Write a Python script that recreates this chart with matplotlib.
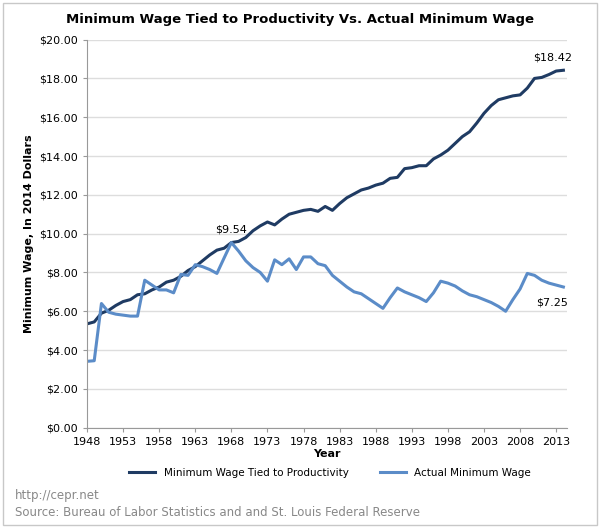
import numpy as np
import matplotlib.pyplot as plt
from matplotlib.patches import Rectangle

years = np.arange(1948, 2015)
productivity = [5.35, 5.45, 5.9, 6.05, 6.3, 6.5, 6.6, 6.85, 6.9, 7.1, 7.25, 7.5, 7.6, 7.8, 8.1, 8.3,
                8.6, 8.9, 9.15, 9.25, 9.54, 9.6, 9.8, 10.15, 10.4, 10.6, 10.45, 10.75, 11.0, 11.1,
                11.2, 11.25, 11.15, 11.4, 11.2, 11.55, 11.85, 12.05, 12.25, 12.35, 12.5, 12.6, 12.85,
                12.9, 13.35, 13.4, 13.5, 13.5, 13.85, 14.05, 14.3, 14.65, 15.0, 15.25, 15.7, 16.2,
                16.6, 16.9, 17.0, 17.1, 17.15, 17.5, 18.0, 18.05, 18.2, 18.38, 18.42]
actual = [3.42, 3.45, 6.4, 5.95, 5.85, 5.8, 5.75, 5.75, 7.6, 7.35, 7.1, 7.1, 6.95, 7.9, 7.85, 8.4,
          8.3, 8.15, 7.95, 8.75, 9.54, 9.1, 8.6, 8.25, 8.0, 7.55, 8.65, 8.4, 8.7, 8.15, 8.8, 8.8,
          8.45, 8.35, 7.85, 7.55, 7.25, 7.0, 6.9, 6.65, 6.4, 6.15, 6.7, 7.2, 7.0, 6.85, 6.7, 6.5,
          6.95, 7.55, 7.45, 7.3, 7.05, 6.85, 6.75, 6.6, 6.45, 6.25, 6.0, 6.6, 7.15, 7.95, 7.85,
          7.6, 7.45, 7.35, 7.25]
xticks = np.arange(1948, 2015, 5)

fig = plt.figure(figsize=(6.0, 5.28), dpi=100)
fig.patches.append(Rectangle((0.005, 0.005), 0.99, 0.99, transform=fig.transFigure,
                             fill=False, edgecolor='#c8c8c8', lw=1))
ax = fig.add_axes([0.145, 0.19, 0.80, 0.735])
ax.plot(years, productivity, color='#1f3b63', lw=2.2, label='Minimum Wage Tied to Productivity')
ax.plot(years, actual, color='#5b8cc8', lw=2.2, label='Actual Minimum Wage')
ax.set_xlim(1948, 2014.5)
ax.set_ylim(0, 20)
ax.set_yticks(np.arange(0, 21, 2))
ax.set_yticklabels([f'${v:.2f}' for v in np.arange(0, 21, 2)])
ax.set_xticks(xticks)
ax.grid(axis='y', color='#dddddd', lw=1)
ax.set_axisbelow(True)
for s in ['top', 'right']:
    ax.spines[s].set_visible(False)
for s in ['left', 'bottom']:
    ax.spines[s].set_color('#999999')
ax.tick_params(labelsize=8, length=3, color='#999999')
ax.set_xlabel('Year', fontsize=8, fontweight='bold', labelpad=2)
ax.set_ylabel('Minimum Wage, In 2014 Dollars', fontsize=8, fontweight='bold')
ax.annotate('$9.54', (1968, 9.54), xytext=(0, 7), textcoords='offset points', ha='center', fontsize=8)
ax.annotate('$18.42', (2014, 18.42), xytext=(-8, 7), textcoords='offset points', ha='center', fontsize=8)
ax.annotate('$7.25', (2014, 7.25), xytext=(-8, -13), textcoords='offset points', ha='center', fontsize=8)
fig.suptitle('Minimum Wage Tied to Productivity Vs. Actual Minimum Wage', y=0.975,
             fontsize=9.5, fontweight='bold')
fig.legend(loc='center', bbox_to_anchor=(0.55, 0.105), ncol=2, frameon=False, fontsize=7.5,
           handlelength=2.5, columnspacing=3)
fig.text(0.025, 0.055, 'http://cepr.net', fontsize=8.5, color='#888888')
fig.text(0.025, 0.022, 'Source: Bureau of Labor Statistics and and St. Louis Federal Reserve',
         fontsize=8.5, color='#888888')
fig.savefig('out.png')
